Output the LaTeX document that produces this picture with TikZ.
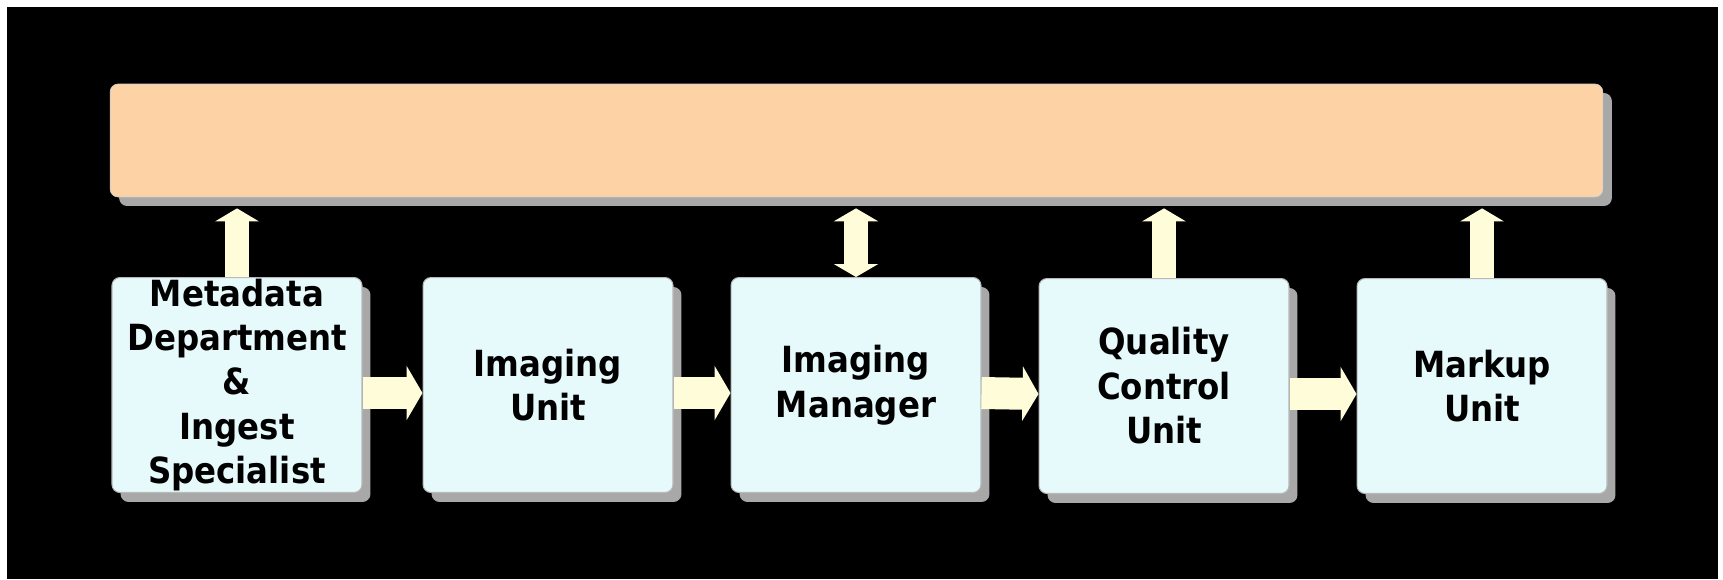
\documentclass[tikz,border=0pt]{standalone}
\usepackage{fontspec}
\newfontfamily\unitfont{DejaVu Sans Condensed}
\usetikzlibrary{positioning, calc, shadows, arrows.meta}
\definecolor{barorange}{HTML}{FDD3A6}
\definecolor{unitcyan}{HTML}{E6FAFC}
\definecolor{arrowcream}{HTML}{FFFDD9}
\definecolor{shadowgray}{HTML}{A8A8A8}
\tikzset{
	unitbox/.style={draw=gray!55, line width=0.6pt, fill=unitcyan, rounded corners=0.16cm,
		minimum width=5cm, minimum height=4.3cm, inner sep=0pt, align=center,
		font=\unitfont\bfseries\fontsize{20.5}{25.3}\selectfont,
		drop shadow={shadow xshift=0.17cm, shadow yshift=-0.19cm, fill=shadowgray, opacity=1}}
}
\tikzset{
	flowarrow/.style={arrowcream, line width=0.64cm, -{Triangle[length=0.32cm, width=1.08cm]}}
}
\tikzset{
	reportarrow/.style={arrowcream, line width=0.48cm, -{Triangle[length=0.26cm, width=0.86cm]}, shorten >=0.22cm}
}

\begin{document}
\begin{tikzpicture}[x=0.02cm, y=-0.02cm]
      % white rim round a black backdrop
      \useasboundingbox (0,0) rectangle (1723,579);
      \fill[white] (0,0) rectangle (1723,579);
      \fill[black] (7,7) rectangle (1718,579);
      % the long bar on top
      \node[draw=gray!40, fill=barorange, rounded corners=0.16cm, minimum width=29.86cm, minimum height=2.26cm,
        drop shadow={shadow xshift=0.18cm, shadow yshift=-0.18cm, fill=shadowgray, opacity=1}] (bar) at (856.5,140.5) {};
      % the units
      \node[unitbox] (meta) at (237,385) {Metadata\\Department\\\&\\Ingest\\Specialist};
      \node[unitbox] (imaging) at (548,385) {Imaging\\Unit};
      \node[unitbox] (manager) at (856,385) {Imaging\\Manager};
      \node[unitbox] (quality) at (1164,386) {Quality\\Control\\Unit};
      \node[unitbox] (markup) at (1482,386) {Markup\\Unit};
      % hand-over between units
      \draw[flowarrow] ($(meta.east)+(0,8)$) -- ($(imaging.west)+(0,8)$);
      \draw[flowarrow] ($(imaging.east)+(0,8)$) -- ($(manager.west)+(0,8)$);
      \draw[flowarrow] ($(manager.east)+(0,8)$) -- ($(quality.west)+(0,8)$);
      \draw[flowarrow] ($(quality.east)+(0,8)$) -- ($(markup.west)+(0,8)$);
      % up to the bar
      \draw[reportarrow] (meta.north) -- (meta.north |- bar.south);
      \draw[reportarrow, {Triangle[length=0.26cm, width=0.88cm]}-{Triangle[length=0.26cm, width=0.88cm]}] (manager.north) -- (manager.north |- bar.south);
      \draw[reportarrow] (quality.north) -- (quality.north |- bar.south);
      \draw[reportarrow] (markup.north) -- (markup.north |- bar.south);
    \end{tikzpicture}
\end{document}
